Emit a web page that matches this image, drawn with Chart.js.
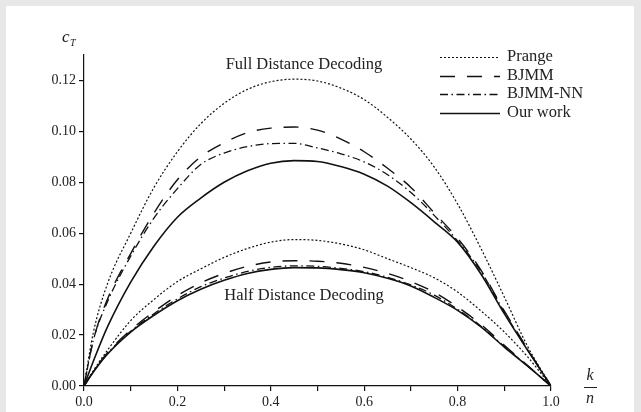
<!DOCTYPE html>
<html>
<head>
<meta charset="utf-8">
<script src="https://cdn.jsdelivr.net/npm/chart.js@4"></script>
<style>
  html, body { margin: 0; padding: 0; background: #e8e8e8; }
  #wrap { position: absolute; left: 0; top: 0; width: 641px; height: 412px; }
</style>
</head>
<body>
<div id="wrap"><canvas id="chart" width="641" height="412"></canvas></div>
<script>
// -----------------------------
// Data (k/n grid and c_T values)
// -----------------------------
const kGrid = [0, 0.02, 0.05, 0.1, 0.15, 0.2, 0.25, 0.3, 0.35, 0.4, 0.45, 0.5, 0.55, 0.6, 0.65, 0.7, 0.75, 0.8, 0.85, 0.9, 0.95, 1.0];

// Full distance decoding
const prangeFull = [0, 0.021, 0.040, 0.060, 0.078, 0.092, 0.103, 0.111, 0.1165, 0.1195, 0.1205, 0.1198, 0.117, 0.1125, 0.1055, 0.097, 0.086, 0.0715, 0.054, 0.035, 0.0155, 0];
const bjmmFull   = [0, 0.018, 0.034, 0.052, 0.068, 0.081, 0.090, 0.0955, 0.0995, 0.1013, 0.1017, 0.1005, 0.097, 0.092, 0.0855, 0.078, 0.068, 0.058, 0.0455, 0.0295, 0.0145, 0];
const nnFull     = [0, 0.018, 0.033, 0.051, 0.066, 0.0775, 0.087, 0.0915, 0.094, 0.0952, 0.0953, 0.0935, 0.0912, 0.088, 0.083, 0.076, 0.067, 0.057, 0.045, 0.029, 0.0142, 0];
const oursFull   = [0, 0.0097, 0.0231, 0.0408, 0.055, 0.0663, 0.0738, 0.080, 0.0845, 0.0875, 0.0885, 0.0882, 0.0862, 0.0832, 0.0785, 0.072, 0.0645, 0.0565, 0.044, 0.0284, 0.014, 0];

// Half distance decoding
const prangeHalf = [0, 0.006, 0.014, 0.0257, 0.034, 0.041, 0.046, 0.0505, 0.054, 0.0565, 0.0575, 0.0572, 0.0558, 0.0535, 0.050, 0.0465, 0.0425, 0.0369, 0.0295, 0.0212, 0.0114, 0];
const bjmmHalf   = [0, 0.0057, 0.013, 0.022, 0.0292, 0.0355, 0.0405, 0.0442, 0.047, 0.0487, 0.0492, 0.049, 0.0482, 0.0466, 0.0442, 0.041, 0.0368, 0.031, 0.0242, 0.016, 0.008, 0];
const nnHalf     = [0, 0.0056, 0.0127, 0.0215, 0.0284, 0.0342, 0.039, 0.0424, 0.045, 0.0466, 0.0472, 0.047, 0.0462, 0.0449, 0.0427, 0.0397, 0.0357, 0.0301, 0.0235, 0.0155, 0.0079, 0];
const oursHalf   = [0, 0.0055, 0.0125, 0.0212, 0.0278, 0.0335, 0.038, 0.0415, 0.0442, 0.0458, 0.0465, 0.0464, 0.0457, 0.0445, 0.0423, 0.0393, 0.0348, 0.0297, 0.0232, 0.0153, 0.0078, 0];

const xTicks = [0, 0.1, 0.2, 0.3, 0.4, 0.5, 0.6, 0.7, 0.8, 0.9, 1.0];
const yTicks = [0, 0.02, 0.04, 0.06, 0.08, 0.10, 0.12];
const legendNames = ["Prange", "BJMM", "BJMM-NN", "Our work"];

// -----------------------------
// Styles
// -----------------------------
const SERIF = '"Liberation Serif", "DejaVu Serif", serif';
const styles = [
    { dash: [2, 2], width: 1.2 },
    { dash: [15, 12], width: 1.4 },
    { dash: [8, 3.5, 1.5, 3.5], width: 1.3 },
    { dash: [], width: 1.6 }
];

const toPts = arr => arr.map((v, i) => ({ x: kGrid[i], y: v }));
const seriesFull = [prangeFull, bjmmFull, nnFull, oursFull];
const seriesHalf = [prangeHalf, bjmmHalf, nnHalf, oursHalf];

const datasets = [];
[seriesFull, seriesHalf].forEach(group => {
    group.forEach((arr, i) => {
        datasets.push({
            label: legendNames[i],
            data: toPts(arr),
            borderColor: '#111',
            borderWidth: styles[i].width,
            borderDash: styles[i].dash,
            pointRadius: 0,
            fill: false,
            tension: 0.4,
            cubicInterpolationMode: 'monotone'
        });
    });
});

// -----------------------------
// Background, annotations and legend
// -----------------------------
const decorPlugin = {
    id: 'decor',
    beforeDraw(chart) {
        const ctx = chart.ctx;
        ctx.save();
        ctx.fillStyle = '#e8e8e8';
        ctx.fillRect(0, 0, 641, 412);
        ctx.fillStyle = '#ffffff';
        ctx.fillRect(6, 6, 628, 406);
        ctx.restore();
    },
    afterDraw(chart) {
        const ctx = chart.ctx;
        ctx.save();
        ctx.fillStyle = '#222';
        ctx.textBaseline = 'middle';

        // region labels
        ctx.font = `16.5px ${SERIF}`;
        ctx.textAlign = 'center';
        ctx.fillText('Full Distance Decoding', 304, 65);
        ctx.fillText('Half Distance Decoding', 304, 296);

        // y axis label c_T
        ctx.textAlign = 'left';
        ctx.font = `italic 17px ${SERIF}`;
        ctx.fillText('c', 62, 38);
        ctx.font = `italic 10px ${SERIF}`;
        ctx.fillText('T', 70, 43);

        // x axis label k/n
        ctx.textAlign = 'center';
        ctx.font = `italic 16px ${SERIF}`;
        ctx.fillText('k', 590, 376);
        ctx.fillText('n', 590, 399);
        ctx.strokeStyle = '#222';
        ctx.lineWidth = 1;
        ctx.beginPath();
        ctx.moveTo(584, 387.5);
        ctx.lineTo(597, 387.5);
        ctx.stroke();

        // legend
        ctx.textAlign = 'left';
        ctx.font = `16.5px ${SERIF}`;
        const rows = [57, 76, 94, 113];
        legendNames.forEach((name, i) => {
            ctx.strokeStyle = '#111';
            ctx.lineWidth = styles[i].width;
            ctx.setLineDash(styles[i].dash);
            ctx.beginPath();
            ctx.moveTo(440, rows[i] + 0.5);
            ctx.lineTo(500, rows[i] + 0.5);
            ctx.stroke();
            ctx.setLineDash([]);
            ctx.fillText(name, 507, rows[i]);
        });
        ctx.restore();
    }
};

// -----------------------------
// Chart
// -----------------------------
new Chart(document.getElementById('chart'), {
    type: 'line',
    data: { datasets },
    plugins: [decorPlugin],
    options: {
        responsive: false,
        animation: false,
        layout: { padding: { left: 0, top: 55, right: 90, bottom: 0 } },
        plugins: { legend: { display: false }, tooltip: { enabled: false } },
        scales: {
            x: {
                type: 'linear',
                min: 0,
                max: 1,
                afterFit: s => { s.height = 26; },
                afterBuildTicks: s => { s.ticks = xTicks.map(v => ({ value: v })); },
                border: { color: '#111', width: 1.2 },
                grid: { drawOnChartArea: false, drawTicks: true, tickLength: 5, color: '#111', lineWidth: 1.2 },
                ticks: {
                    autoSkip: false,
                    maxRotation: 0,
                    padding: 3,
                    color: '#222',
                    font: { family: SERIF, size: 14 },
                    callback: v => (Math.round(v * 10) % 2 === 0 ? v.toFixed(1) : '')
                }
            },
            y: {
                type: 'linear',
                min: 0,
                max: 0.13,
                afterFit: s => { s.width = 84; },
                afterBuildTicks: s => { s.ticks = yTicks.map(v => ({ value: v })); },
                border: { color: '#111', width: 1.2 },
                grid: { drawOnChartArea: false, drawTicks: true, tickLength: 5, color: '#111', lineWidth: 1.2 },
                ticks: {
                    autoSkip: false,
                    padding: 3,
                    color: '#222',
                    font: { family: SERIF, size: 14 },
                    callback: v => v.toFixed(2)
                }
            }
        }
    }
});
</script>
</body>
</html>
